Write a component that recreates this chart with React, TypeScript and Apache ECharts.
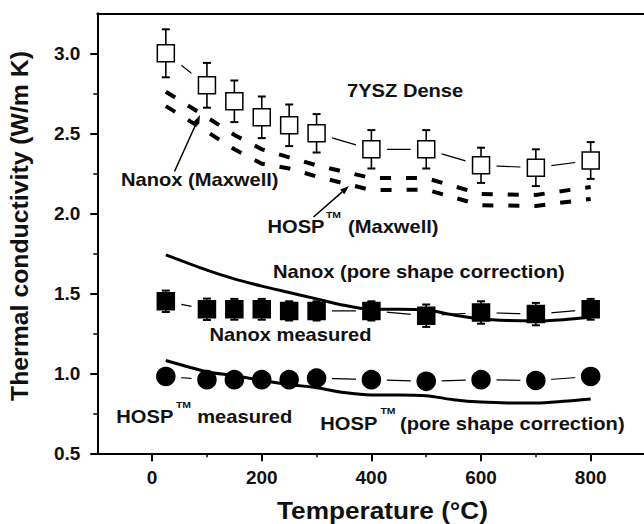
import React, { useEffect, useRef } from "react";
import * as echarts from "echarts";

const FONT = "'Liberation Sans', Arial, sans-serif";

// Measurement temperatures (°C)
const temps = [25, 100, 150, 200, 250, 300, 400, 500, 600, 700, 800];
// 7YSZ dense (open squares)
const denseValues = [3.0, 2.8, 2.7, 2.6, 2.55, 2.5, 2.4, 2.4, 2.3, 2.285, 2.33];
const denseErrors = [0.15, 0.14, 0.13, 0.13, 0.13, 0.12, 0.12, 0.12, 0.11, 0.115, 0.115];
// Nanox measured (filled squares)
const nanoxMeasured = [1.45, 1.4, 1.4, 1.4, 1.39, 1.39, 1.39, 1.36, 1.38, 1.37, 1.4];
const nanoxErrors = [0.067, 0.067, 0.065, 0.065, 0.06, 0.06, 0.06, 0.07, 0.07, 0.07, 0.065];
// HOSP measured (filled circles)
const hospMeasured = [0.98, 0.96, 0.96, 0.96, 0.96, 0.97, 0.96, 0.95, 0.96, 0.955, 0.98];
const hospErrors = [0.04, 0.04, 0.04, 0.04, 0.04, 0.04, 0.04, 0.04, 0.04, 0.04, 0.04];
// Maxwell model (dashed)
const nanoxMaxwell = [2.76, 2.6, 2.49, 2.4, 2.35, 2.3, 2.22, 2.22, 2.12, 2.115, 2.165];
const hospMaxwell = [2.67, 2.51, 2.4, 2.31, 2.28, 2.23, 2.145, 2.148, 2.05, 2.046, 2.09];
// Pore shape correction (solid)
const poreTemps = [25, 100, 150, 200, 250, 300, 350, 400, 450, 500, 550, 600, 650, 700, 750, 800];
const nanoxPore = [1.74, 1.645, 1.59, 1.545, 1.505, 1.465, 1.425, 1.4, 1.4, 1.395, 1.365, 1.34, 1.33, 1.327, 1.335, 1.35];
const hospPore = [1.08, 1.01, 0.985, 0.955, 0.93, 0.91, 0.88, 0.865, 0.865, 0.86, 0.835, 0.82, 0.815, 0.815, 0.825, 0.84];

// Tick labels
const xTickLabels = [0, 200, 400, 600, 800];
const xMinorTicks = [100, 300, 500, 700];
const yTickLabels = [0.5, 1.0, 1.5, 2.0, 2.5, 3.0];
const yMinorTicks = [0.75, 1.25, 1.75, 2.25, 2.75];

const pairs = (xs: number[], ys: number[]) => xs.map((x, i) => [x, ys[i]]);

const errorBarSeries = (values: number[], errors: number[], z: number) => ({
  type: "custom",
  z,
  silent: true,
  data: temps.map((t, i) => [t, values[i] - errors[i], values[i] + errors[i]]),
  encode: { x: 0, y: [1, 2] },
  renderItem: (_params: any, api: any) => {
    const x = api.value(0);
    const lo = api.coord([x, api.value(1)]);
    const hi = api.coord([x, api.value(2)]);
    const w = 4;
    return {
      type: "group",
      children: [
        { type: "line", shape: { x1: lo[0], y1: lo[1], x2: hi[0], y2: hi[1] }, style: { stroke: "#000", lineWidth: 1.6 } },
        { type: "line", shape: { x1: lo[0] - w, y1: lo[1], x2: lo[0] + w, y2: lo[1] }, style: { stroke: "#000", lineWidth: 2 } },
        { type: "line", shape: { x1: hi[0] - w, y1: hi[1], x2: hi[0] + w, y2: hi[1] }, style: { stroke: "#000", lineWidth: 2 } },
      ],
    };
  },
});

const connectLine = (values: number[]) => ({
  type: "line",
  z: 1,
  silent: true,
  symbol: "none",
  data: pairs(temps, values),
  lineStyle: { color: "#000", width: 1.2, opacity: 1 },
});

const halo = (values: number[], symbol: string) => ({
  type: "scatter",
  z: 2,
  silent: true,
  symbol,
  symbolSize: 31,
  data: pairs(temps, values),
  itemStyle: { color: "#fff", opacity: 1 },
});

const markers = (values: number[], symbol: string, size: number, fill: string) => ({
  type: "scatter",
  z: 4,
  silent: true,
  symbol,
  symbolSize: size,
  data: pairs(temps, values),
  itemStyle: { color: fill, borderColor: "#000", borderWidth: 1.5, opacity: 1 },
});

const textEl = (text: string, x: number, y: number, size = 17.5, sx = 1.15, align = "left") => ({
  type: "text",
  x,
  y,
  scaleX: sx,
  z: 100,
  silent: true,
  style: {
    text,
    fontSize: size,
    fontWeight: "bold",
    fontFamily: FONT,
    fill: "#111",
    align,
    textAlign: align,
    verticalAlign: "middle",
    textVerticalAlign: "middle",
  },
});

const arrow = (tx: number, ty: number, hx: number, hy: number) => {
  const dx = hx - tx;
  const dy = hy - ty;
  const len = Math.sqrt(dx * dx + dy * dy);
  const ux = dx / len;
  const uy = dy / len;
  const bx = hx - ux * 9;
  const by = hy - uy * 9;
  const px = -uy * 3.2;
  const py = ux * 3.2;
  return [
    { type: "line", z: 100, silent: true, shape: { x1: tx, y1: ty, x2: bx, y2: by }, style: { stroke: "#000", lineWidth: 1.5 } },
    {
      type: "polygon",
      z: 100,
      silent: true,
      shape: { points: [[hx, hy], [bx + px, by + py], [bx - px, by - py]] },
      style: { fill: "#000" },
    },
  ];
};

const dashedLine = (values: number[]) => ({
  type: "line",
  z: 5,
  silent: true,
  symbol: "none",
  data: pairs(temps, values),
  lineStyle: { color: "#000", width: 4, type: [11, 15], cap: "butt", opacity: 1 },
});

const solidCurve = (values: number[]) => ({
  type: "line",
  z: 5,
  silent: true,
  symbol: "none",
  smooth: 0.3,
  data: pairs(poreTemps, values),
  lineStyle: { color: "#000", width: 3, opacity: 1 },
});

export default function App() {
  const ref = useRef<HTMLDivElement>(null);

  useEffect(() => {
    if (!ref.current) return;
    const chart = echarts.init(ref.current, undefined, { renderer: "svg" });
    const labelStyle = { fontSize: 19, fontWeight: "bold", fontFamily: FONT, color: "#111" };
    const option: any = {
      animation: false,
      backgroundColor: "#fff",
      grid: { left: 97.3, right: -1.5, top: 13.3, bottom: 70.7, outerBoundsMode: "none", containLabel: false },
      xAxis: [
        {
          type: "value",
          min: -100,
          max: 900,
          interval: 100,
          position: "bottom",
          axisLine: { show: true, onZero: false, lineStyle: { color: "#000", width: 2 } },
          axisTick: { show: true, length: 4, customValues: xMinorTicks, lineStyle: { color: "#000", width: 1.5 } },
          axisLabel: {
            ...labelStyle,
            margin: 15,
            customValues: xTickLabels,
            formatter: (v: number) => (xTickLabels.includes(v) ? String(v) : ""),
          },
          splitLine: { show: false },
        },
        {
          type: "value",
          min: -100,
          max: 900,
          interval: 100,
          position: "bottom",
          axisLine: { show: false, onZero: false },
          axisTick: { show: true, length: 8, customValues: xTickLabels, lineStyle: { color: "#000", width: 2 } },
          axisLabel: { show: false },
          splitLine: { show: false },
        },
        {
          type: "value",
          min: -100,
          max: 900,
          interval: 100,
          position: "top",
          axisLine: { show: true, onZero: false, lineStyle: { color: "#000", width: 2 } },
          axisTick: { show: false },
          axisLabel: { show: false },
          splitLine: { show: false },
        },
      ],
      yAxis: [
        {
          type: "value",
          min: 0.5,
          max: 3.25,
          interval: 0.25,
          position: "left",
          axisLine: { show: true, onZero: false, lineStyle: { color: "#000", width: 2 } },
          axisTick: { show: true, length: 4, customValues: yMinorTicks, lineStyle: { color: "#000", width: 1.5 } },
          axisLabel: {
            ...labelStyle,
            margin: 17,
            customValues: yTickLabels,
            formatter: (v: number) => (yTickLabels.some((t) => Math.abs(t - v) < 1e-6) ? v.toFixed(1) : ""),
          },
          splitLine: { show: false },
        },
        {
          type: "value",
          min: 0.5,
          max: 3.25,
          interval: 0.25,
          position: "left",
          axisLine: { show: false, onZero: false },
          axisTick: { show: true, length: 7, customValues: yTickLabels, lineStyle: { color: "#000", width: 2 } },
          axisLabel: { show: false },
          splitLine: { show: false },
        },
      ],
      series: [
        connectLine(denseValues),
        connectLine(nanoxMeasured),
        connectLine(hospMeasured),
        halo(denseValues, "rect"),
        halo(nanoxMeasured, "rect"),
        halo(hospMeasured, "circle"),
        errorBarSeries(denseValues, denseErrors, 3),
        errorBarSeries(nanoxMeasured, nanoxErrors, 3),
        errorBarSeries(hospMeasured, hospErrors, 3),
        markers(denseValues, "rect", 17, "#fff"),
        markers(nanoxMeasured, "rect", 17, "#000"),
        markers(hospMeasured, "circle", 18, "#000"),
        dashedLine(nanoxMaxwell),
        dashedLine(hospMaxwell),
        solidCurve(nanoxPore),
        solidCurve(hospPore),
      ],
      graphic: [
        textEl("7YSZ Dense", 347, 91),
        textEl("Nanox (Maxwell)", 121, 180.3),
        textEl("HOSP", 267.5, 226.7),
        textEl("TM", 326, 215, 9.5, 1.1),
        textEl("(Maxwell)", 348, 226.7),
        textEl("Nanox (pore shape correction)", 273, 271.5),
        textEl("Nanox measured", 209.5, 335),
        textEl("HOSP", 116.3, 417),
        textEl("TM", 176, 405, 9.5, 1.1),
        textEl("measured", 197.2, 417),
        textEl("HOSP", 320.3, 423.5),
        textEl("TM", 380.5, 410.5, 9.5, 1.1),
        textEl("(pore shape correction)", 400, 423.5),
        textEl("Temperature (°C)", 382.5, 511.3, 23, 1.14, "center"),
        {
          type: "text",
          x: 19.5,
          y: 226,
          rotation: Math.PI / 2,
          z: 100,
          silent: true,
          style: {
            text: "Thermal conductivity (W/m K)",
            fontSize: 24.8,
            fontWeight: "bold",
            fontFamily: FONT,
            fill: "#111",
            align: "center",
            textAlign: "center",
            verticalAlign: "middle",
            textVerticalAlign: "middle",
          },
        },
        ...arrow(174.5, 171.5, 200, 115),
        ...arrow(313.5, 217, 349, 186),
      ],
    };
    chart.setOption(option);
    return () => chart.dispose();
  }, []);

  return (
    <div
      ref={ref}
      style={{ position: "absolute", left: 0, top: 0, width: 644, height: 524, background: "#fff" }}
    />
  );
}
